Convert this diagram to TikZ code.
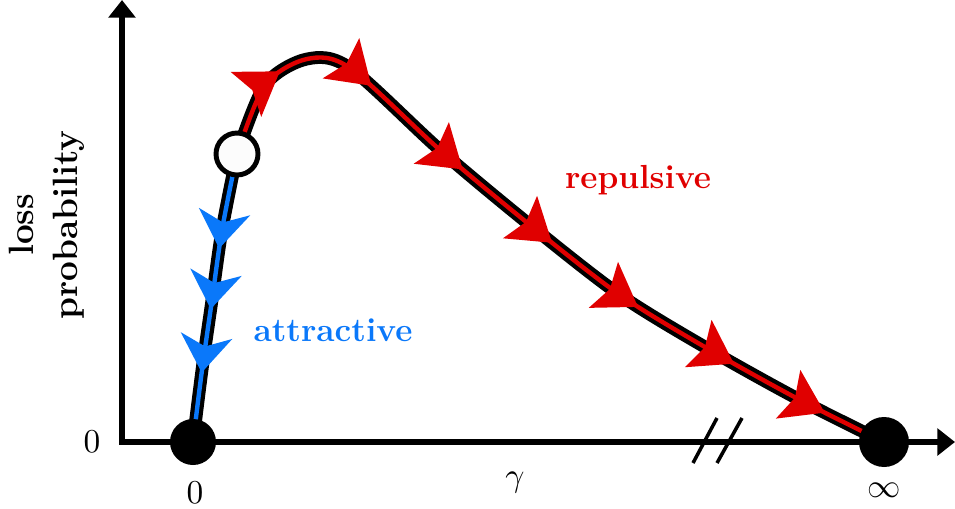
\documentclass[tikz,border=0pt]{standalone}
\usepackage{amsmath,amssymb}
\usepackage{xcolor}
\usepackage{tikz}
\usetikzlibrary{arrows.meta,decorations.markings}
\definecolor{repcol}{RGB}{224,0,0}
\definecolor{attcol}{RGB}{10,120,250}

\tikzset{
  axis/.style={line width=3pt,line join=miter},
  flowline/.style={draw=black,line width=2.4pt,double distance=2.5pt},
  reptip/.style={decoration={markings,
      mark=at position 0.115 with {\arrow{Stealth[length=23pt,width=30pt,inset=4pt,color=repcol]}},
      mark=at position 0.24 with {\arrow{Stealth[length=23pt,width=30pt,inset=4pt,color=repcol]}},
      mark=at position 0.39 with {\arrow{Stealth[length=23pt,width=30pt,inset=4pt,color=repcol]}},
      mark=at position 0.53 with {\arrow{Stealth[length=23pt,width=30pt,inset=4pt,color=repcol]}},
      mark=at position 0.66 with {\arrow{Stealth[length=23pt,width=30pt,inset=4pt,color=repcol]}},
      mark=at position 0.795 with {\arrow{Stealth[length=23pt,width=30pt,inset=4pt,color=repcol]}},
      mark=at position 0.92 with {\arrow{Stealth[length=23pt,width=30pt,inset=4pt,color=repcol]}}},
    postaction={decorate}},
  atttip/.style={decoration={markings,
      mark=at position 0.33 with {\arrow{Stealth[length=21pt,width=29pt,inset=6pt,color=attcol]}},
      mark=at position 0.54 with {\arrow{Stealth[length=21pt,width=29pt,inset=6pt,color=attcol]}},
      mark=at position 0.76 with {\arrow{Stealth[length=21pt,width=29pt,inset=6pt,color=attcol]}}},
    postaction={decorate}},
  fixdot/.style={circle,fill=black,inner sep=0pt},
  unstdot/.style={circle,draw=black,line width=2.8pt,fill=black!1,inner sep=0pt,minimum size=0.84cm},
  mlabel/.style={font=\normalsize,scale=1.9},
}

\begin{document}
\begin{tikzpicture}[x=0.02cm,y=0.02cm,font=\fontsize{19}{23}\selectfont]
\useasboundingbox (0,0) rectangle (955,508);
\coordinate (O) at (122,66);
\coordinate (xtip) at (955,66);
\coordinate (ytip) at (122,508);
\draw[axis,{Triangle[length=10pt,width=15pt]}-{Triangle[length=10pt,width=15pt]}] (ytip) -- (O) -- (xtip);
\draw[line width=2pt] (693,45) -- (717,90);
\draw[line width=2pt] (717,45) -- (742,90);

\coordinate (zero) at (193,66);
\coordinate (inf) at (884,66);
\coordinate (unst) at (237,354);

\draw[flowline,double=attcol,atttip] plot[smooth] coordinates {(unst) (222,278) (212,208) (202,138) (zero)};
\draw[flowline,double=repcol,reptip] plot[smooth] coordinates {(unst) (265,423) (307,449) (350,440) (440,358) (530,283) (620,213) (710,158) (800,108) (inf)};

\node[fixdot,minimum size=0.92cm] (zdot) at (zero) {};
\node[fixdot,minimum size=1cm] (idot) at (inf) {};
\node[unstdot] (udot) at (unst) {};

\node[repcol,font=\fontsize{19}{23}\selectfont\bfseries] (rep) at (638,328) {repulsive};
\node[attcol,font=\fontsize{19}{23}\selectfont\bfseries] (att) at (333,178) {attractive};
\node[rotate=90,align=center,font=\fontsize{20}{25}\selectfont\bfseries] (ylab) at (47,283) {loss\\probability};
\node[mlabel] (y0) at (92,66) {$0$};
\node[mlabel] (x0) at (195,15) {$0$};
\node[mlabel] (gam) at (515,25) {$\gamma$};
\node[mlabel] (infl) at (884,18) {$\infty$};
\end{tikzpicture}
\end{document}
